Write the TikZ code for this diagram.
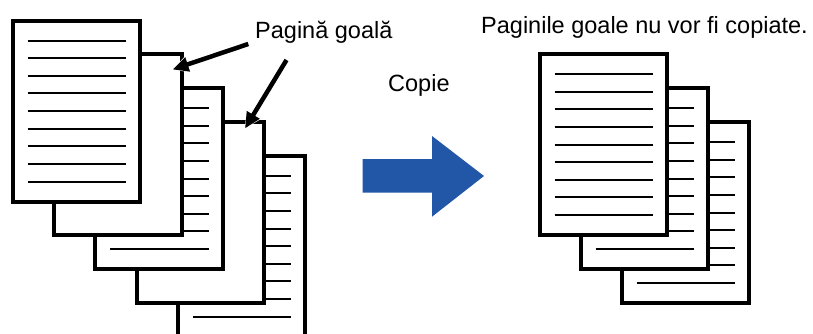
\documentclass[tikz,border=0pt]{standalone}
\usepackage{fontspec}
\setmainfont{Liberation Sans}
\usetikzlibrary{arrows.meta,calc}
\definecolor{arrowblue}{RGB}{34,86,166}
\tikzset{
  pagebox/.style={draw=black, fill=white, line width=4pt, minimum width=127.5pt,
    minimum height=181pt, inner sep=0pt, outer sep=0pt, anchor=north west},
  txtline/.style={line width=2pt},
  captext/.style={font=\fontsize{23.5}{28}\selectfont, inner sep=0pt, anchor=base west},
  ptr/.style={line width=4.5pt, -{Triangle[length=16pt,width=14pt]}},
  ptrhalo/.style={draw=white, line width=9pt, -{Triangle[length=21pt,width=21pt]}},
}
\newcommand\docpage[4]{%
  \node[pagebox] (#1) at (#2,#3) {};
  \ifnum#4=1
    \foreach \i in {0,...,8}{\draw[txtline] ($(#1.north west)+(15,20+17.6*\i)$) -- ++(98.5,0);}
  \fi
}
\begin{document}
\begin{tikzpicture}[x=1pt,y=-1pt]
  \useasboundingbox (0,0) rectangle (813,334);
  \clip (0,0) rectangle (813,334);
  % left stack (back to front)
  \docpage{l5}{177.9}{155.7}{1}
  \docpage{l4}{136.6}{121.95}{0}
  \docpage{l3}{95.3}{88.2}{1}
  \docpage{l2}{54.0}{54.45}{0}
  \docpage{l1}{12.7}{20.7}{1}
  % right stack
  \docpage{r3}{621.5}{122.2}{1}
  \docpage{r2}{580.5}{88.2}{1}
  \docpage{r1}{539.5}{54.2}{1}
  % texts
  \node[captext] (blank) at (255,38.3) {Pagină goală};
  \node[captext] (copy) at (388,91.7) {Copie};
  \node[captext] (note) at (481,33.3) {Paginile goale nu vor fi copiate.};
  % pointers
  \coordinate (a1s) at (248.3,44);
  \coordinate (a1e) at (172.5,69.5);
  \coordinate (a2s) at (286.5,60);
  \coordinate (a2e) at (245,128.5);
  \draw[ptrhalo] (a1s) -- (a1e);
  \draw[ptrhalo] (a2s) -- (a2e);
  \draw[ptr] (a1s) -- (a1e);
  \draw[ptr] (a2s) -- (a2e);
  % big blue arrow
  \fill[arrowblue] (362.7,159) -- (432,159) -- (432,136) -- (484,176)
    -- (432,216.7) -- (432,192.7) -- (362.7,192.7) -- cycle;
\end{tikzpicture}
\end{document}
